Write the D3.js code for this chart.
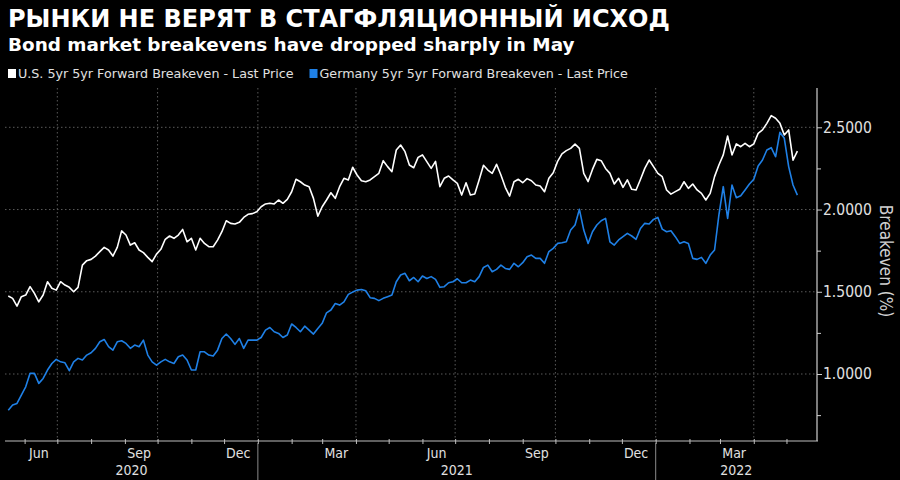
<!DOCTYPE html>
<html><head><meta charset="utf-8">
<script src="https://cdn.jsdelivr.net/npm/d3@7"></script>
<style>body{margin:0;background:#000;} svg{display:block}</style>
</head><body>
<svg id="c" width="900" height="480"></svg>
<script>
const title = "РЫНКИ НЕ ВЕРЯТ В СТАГФЛЯЦИОННЫЙ ИСХОД";
const subtitle = "Bond market breakevens have dropped sharply in May";
const seriesNames = ["U.S. 5yr 5yr Forward Breakeven - Last Price", "Germany 5yr 5yr Forward Breakeven - Last Price"];
const yAxisTitle = "Breakeven (%)";
const startDate = "2020-05-17";
const stepDays = 4;
const usValues = [
1.474,1.460,1.413,1.470,1.480,1.531,1.490,1.439,1.480,1.561,1.521,1.510,1.561,1.541,1.527,1.500,1.527,1.662,1.689,1.697,1.717,1.744,1.770,1.754,1.717,1.770,1.870,1.845,1.784,1.798,1.754,1.738,1.709,1.683,1.729,1.758,1.819,1.839,1.825,1.845,1.879,1.804,1.825,1.754,1.825,1.794,1.774,
1.774,1.814,1.865,1.932,1.916,1.912,1.922,1.952,1.971,1.975,1.987,2.017,2.034,2.038,2.034,2.058,2.038,2.062,2.108,2.184,2.169,2.149,2.139,2.068,1.960,2.017,2.058,2.102,2.068,2.139,2.190,2.180,2.257,2.210,2.175,2.169,2.180,2.200,2.220,2.297,2.261,2.230,2.362,2.392,2.352,2.271,
2.254,2.317,2.332,2.291,2.250,2.293,2.139,2.190,2.204,2.180,2.159,2.088,2.163,2.088,2.094,2.180,2.269,2.240,2.220,2.275,2.210,2.135,2.082,2.169,2.184,2.163,2.188,2.175,2.149,2.143,2.108,2.190,2.224,2.293,2.338,2.358,2.372,2.398,2.372,2.220,2.170,2.244,2.305,2.297,2.250,2.220,
2.155,2.190,2.135,2.180,2.123,2.119,2.183,2.250,2.301,2.261,2.220,2.200,2.119,2.094,2.109,2.123,2.169,2.129,2.155,2.119,2.098,2.058,2.098,2.200,2.271,2.332,2.447,2.332,2.399,2.382,2.403,2.382,2.399,2.463,2.484,2.524,2.571,2.555,2.524,2.453,2.484,2.300,2.355
];
const deValues = [
0.780,0.811,0.821,0.872,0.922,1.004,1.004,0.943,0.973,1.024,1.064,1.089,1.074,1.068,1.020,1.074,1.095,1.085,1.115,1.129,1.156,1.196,1.210,1.166,1.145,1.196,1.202,1.186,1.156,1.176,1.166,1.206,1.115,1.074,1.054,1.074,1.089,1.074,1.064,1.105,1.115,1.085,1.024,1.024,1.135,1.135,1.115,
1.109,1.145,1.216,1.243,1.216,1.180,1.216,1.156,1.206,1.206,1.206,1.222,1.267,1.283,1.257,1.247,1.222,1.237,1.304,1.283,1.257,1.291,1.267,1.243,1.277,1.308,1.372,1.389,1.429,1.419,1.439,1.484,1.498,1.510,1.514,1.506,1.464,1.460,1.446,1.460,1.470,1.480,1.561,1.602,1.612,1.567,
1.587,1.561,1.596,1.581,1.592,1.575,1.527,1.531,1.555,1.561,1.579,1.555,1.555,1.571,1.561,1.592,1.648,1.662,1.622,1.636,1.662,1.642,1.636,1.673,1.652,1.677,1.713,1.723,1.703,1.703,1.673,1.744,1.764,1.794,1.798,1.804,1.875,1.906,2.001,1.875,1.794,1.865,1.906,1.932,1.946,1.804,
1.784,1.815,1.835,1.855,1.839,1.819,1.885,1.916,1.912,1.940,1.952,1.881,1.865,1.871,1.835,1.794,1.804,1.794,1.703,1.697,1.709,1.673,1.723,1.754,1.967,2.139,1.946,2.149,2.072,2.084,2.119,2.155,2.184,2.265,2.301,2.362,2.376,2.321,2.470,2.433,2.261,2.149,2.088
];
const yTicks = [1.0, 1.5, 2.0, 2.5];
const yMinorTicks = [0.75, 1.25, 1.75, 2.25];
const monthLabels = ["Jun","Sep","Dec","Mar","Jun","Sep","Dec","Mar"];
const monthLabelDates = ["2020-06-14","2020-09-14","2020-12-14","2021-03-14","2021-06-14","2021-09-14","2021-12-14","2022-03-14"];
const gridDates = ["2020-07-01","2020-10-01","2021-01-01","2021-04-01","2021-07-01","2021-10-01","2022-01-01","2022-04-01"];
const years = ["2020","2021","2022"];
const xDomain = ["2020-05-14","2022-05-29"];

const parse = d3.utcParse("%Y-%m-%d");
const svg = d3.select("#c");
const W = 900, H = 480;
svg.append("rect").attr("width", W).attr("height", H).attr("fill", "#000");

const L = 5, R = 817, T = 88, B = 441;
const x = d3.scaleUtc().domain(xDomain.map(parse)).range([L, R]);
const y = d3.scaleLinear().domain([1.0, 2.5]).range([374, 127.3]);

const condensed = "'DejaVu Sans Condensed','Liberation Sans Narrow','DejaVu Sans',sans-serif";
const regular = "'DejaVu Sans',sans-serif";

// Title & subtitle
svg.append("text").attr("x", 8).attr("y", 27).text(title)
  .attr("fill", "#fff").attr("font-family", regular)
  .attr("font-weight", "bold").attr("font-size", 24);
svg.append("text").attr("x", 8).attr("y", 51).text(subtitle)
  .attr("fill", "#fff").attr("font-family", regular)
  .attr("font-weight", "bold").attr("font-size", 18.4);

// Legend
const colors = ["#ffffff", "#1f80e6"];
let lx = 8;
seriesNames.forEach((n, i) => {
  svg.append("rect").attr("x", lx).attr("y", 69).attr("width", 8).attr("height", 9).attr("fill", colors[i]);
  const t = svg.append("text").attr("x", lx + 10).attr("y", 78).text(n)
    .attr("fill", "#e0e0e0").attr("font-family", regular).attr("font-size", 12.7);
  lx += 10 + t.node().getComputedTextLength() + 16;
});

// Grid
const grid = svg.append("g").attr("stroke", "#5a5a5a").attr("stroke-width", 1).attr("stroke-dasharray", "1.5,2.5");
grid.selectAll("line.h").data(yTicks).join("line").attr("class", "h")
  .attr("x1", L).attr("x2", R).attr("y1", d => y(d)).attr("y2", d => y(d));
grid.selectAll("line.v").data(gridDates.map(parse)).join("line").attr("class", "v")
  .attr("x1", d => x(d)).attr("x2", d => x(d)).attr("y1", T).attr("y2", B);

// Lines
const mk = vals => vals.map((v, i) => ({ date: d3.utcDay.offset(parse(startDate), i * stepDays), v }));
const line = d3.line().x(d => x(d.date)).y(d => y(d.v));
[usValues, deValues].forEach((vals, i) => {
  svg.append("path").datum(mk(vals)).attr("d", line).attr("fill", "none")
    .attr("stroke", colors[i]).attr("stroke-width", 1.6).attr("stroke-linejoin", "round");
});

// Right axis
const ay = svg.append("g").attr("transform", `translate(${R},0)`)
  .call(d3.axisRight(y).tickValues(yTicks).tickFormat(d3.format(".4f")).tickSize(5).tickPadding(1));
ay.select(".domain").remove();
ay.selectAll("line").attr("stroke", "#cfcfcf");
ay.selectAll("text").attr("fill", "#e0e0e0").attr("font-family", condensed).attr("font-size", 15.5);
const ay2 = svg.append("g").attr("transform", `translate(${R},0)`)
  .call(d3.axisRight(y).tickValues(yMinorTicks).tickFormat("").tickSize(4));
ay2.select(".domain").remove();
ay2.selectAll("line").attr("stroke", "#cfcfcf");
svg.append("line").attr("x1", R).attr("x2", R).attr("y1", T).attr("y2", B).attr("stroke", "#d0d0d0").attr("stroke-width", 1.2);

svg.append("text").attr("transform", `translate(880,261) rotate(90)`).text(yAxisTitle)
  .attr("text-anchor", "middle").attr("fill", "#d0d0d0").attr("font-family", condensed).attr("font-size", 17);

// Bottom axis
const ax = svg.append("g").attr("transform", `translate(0,${B - 2})`)
  .call(d3.axisBottom(x).ticks(d3.utcMonth.every(1)).tickFormat("").tickSize(5));
ax.select(".domain").remove();
ax.selectAll("line").attr("stroke", "#bdbdbd");
svg.append("line").attr("x1", L).attr("x2", R + 1).attr("y1", B).attr("y2", B).attr("stroke", "#bdbdbd").attr("stroke-width", 1.2);

svg.selectAll("text.month").data(monthLabels).join("text").attr("class", "month")
  .attr("x", (d, i) => x(parse(monthLabelDates[i]))).attr("y", 458).text(d => d)
  .attr("text-anchor", "middle").attr("fill", "#e0e0e0").attr("font-family", condensed).attr("font-size", 14);

const [d0, d1] = x.domain();
years.forEach(yr => {
  const s = new Date(Date.UTC(+yr, 0, 1)), e = new Date(Date.UTC(+yr + 1, 0, 1));
  const a = x(s < d0 ? d0 : s), b = x(e > d1 ? d1 : e);
  svg.append("text").attr("x", (a + b) / 2).attr("y", 475).text(yr)
    .attr("text-anchor", "middle").attr("fill", "#e0e0e0").attr("font-family", condensed).attr("font-size", 14);
  if (s > d0) {
    svg.append("line").attr("x1", x(s)).attr("x2", x(s)).attr("y1", B + 2).attr("y2", H)
      .attr("stroke", "#8a8a8a").attr("stroke-width", 1);
  }
});
</script>
</body></html>
